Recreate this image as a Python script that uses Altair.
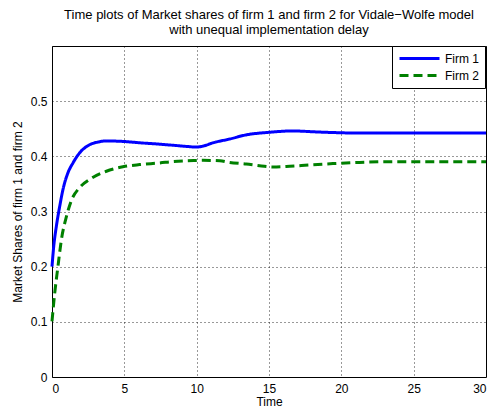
import altair as alt
import pandas as pd

# Firm 1 (solid blue)
t1 = [0, 0.12, 0.3, 0.53, 0.76, 1.1, 1.45, 1.9, 2.6, 3.2, 3.8, 4.5, 5.2, 6.1, 7.2,
      8.4, 9.3, 10.0, 10.5, 11.1, 12.3, 13.4, 15.0, 16.6, 18.5, 20.8, 25.0, 30.0]
v1 = [0.2, 0.237, 0.273, 0.309, 0.34, 0.37, 0.388, 0.406, 0.421, 0.426, 0.428, 0.4275,
      0.4265, 0.4245, 0.4225, 0.420, 0.418, 0.4168, 0.419, 0.4243, 0.4315, 0.4388,
      0.4435, 0.446, 0.444, 0.4424, 0.4424, 0.4424]

# Firm 2 (dashed green)
t2 = [0, 0.19, 0.41, 0.65, 1.0, 1.34, 1.9, 2.6, 3.76, 4.9, 6.06, 7.44, 8.36, 10.0,
      10.44, 11.6, 12.28, 13.43, 14.47, 15.27, 16.43, 17.8, 19.42, 21.26, 23.8, 30.0]
v2 = [0.101, 0.1525, 0.2, 0.249, 0.291, 0.32, 0.343, 0.358, 0.373, 0.381, 0.385,
      0.388, 0.3905, 0.3925, 0.3928, 0.392, 0.389, 0.386, 0.3826, 0.3808, 0.382,
      0.3844, 0.3868, 0.389, 0.3904, 0.3904]

series = ["Firm 1", "Firm 2"]
colors = ["#0000ff", "#008000"]
dashes = [[1, 0], [9, 5]]

x_ticks = [0, 5, 10, 15, 20, 25, 30]
y_ticks = [0, 0.1, 0.2, 0.3, 0.4, 0.5]

df = pd.concat([
    pd.DataFrame({"Time": t1, "Share": v1, "Firm": series[0]}),
    pd.DataFrame({"Time": t2, "Share": v2, "Firm": series[1]}),
])

FONT = "Liberation Sans"

legend_common = dict(
    title=None, orient="none", legendX=340, legendY=0,
    strokeColor="black", fillColor="white", padding=6,
    symbolType="M-1,0H7", symbolSize=100, symbolStrokeWidth=3,
    labelFontSize=12, labelFont=FONT, labelColor="black", labelOffset=34,
    rowPadding=4,
)

chart = alt.Chart(df).mark_line(strokeWidth=3, interpolate="monotone").encode(
    x=alt.X("Time:Q", title="Time",
            scale=alt.Scale(domain=[0, 30], nice=False, zero=False),
            axis=alt.Axis(values=x_ticks, format="d")),
    y=alt.Y("Share:Q", title="Market Shares of firm 1 and firm 2",
            scale=alt.Scale(domain=[0, 0.6], nice=False),
            axis=alt.Axis(values=y_ticks, format="~g")),
    color=alt.Color("Firm:N", scale=alt.Scale(domain=series, range=colors),
                    legend=alt.Legend(**legend_common)),
    strokeDash=alt.StrokeDash("Firm:N", scale=alt.Scale(domain=series, range=dashes),
                              legend=alt.Legend(**legend_common)),
).properties(
    width=434, height=331,
    padding={"left": 52, "top": 46, "right": 7, "bottom": 33},
    autosize=alt.AutoSizeParams(type="none"),
    title=alt.Title(
        ["Time plots of Market shares of firm 1 and firm 2 for Vidale\u2212Wolfe model",
         "with unequal implementation delay"],
        fontSize=13, font=FONT, fontWeight="normal", color="black",
        lineHeight=15, offset=9, anchor="middle"),
).configure_view(
    stroke="black", strokeWidth=1
).configure_axis(
    domain=False, ticks=False,
    grid=True, gridColor="black", gridDash=[1, 3], gridWidth=1, gridOpacity=0.8,
    labelFont=FONT, labelFontSize=12, labelColor="black",
    titleFont=FONT, titleFontSize=12, titleColor="black", titleFontWeight="normal",
).configure_axisX(
    labelPadding=6, titlePadding=2
).configure_axisY(
    labelPadding=5, titlePadding=6
)

chart.save("out.html", embed_options={"renderer": "svg", "actions": False})
